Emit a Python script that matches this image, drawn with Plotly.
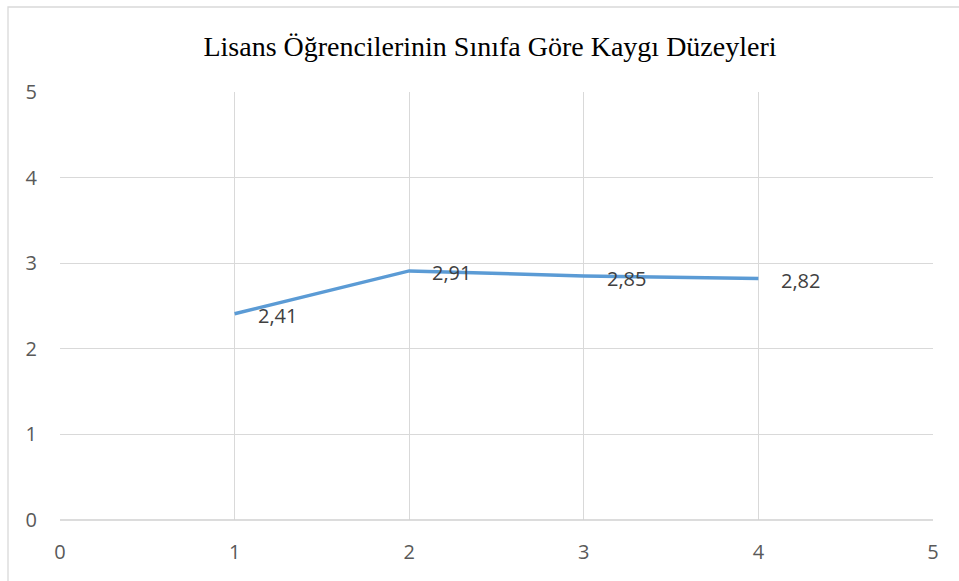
import plotly.graph_objects as go

sinif = [1, 2, 3, 4]
kaygi = [2.41, 2.91, 2.85, 2.82]
x_ticks = [0, 1, 2, 3, 4, 5]
y_ticks = [0, 1, 2, 3, 4, 5]
title = "Lisans Öğrencilerinin Sınıfa Göre Kaygı Düzeyleri"

W, H = 959, 581
L, R, T, B = 60, 26, 92, 61
pw, ph = W - L - R, H - T - B

fig = go.Figure()
fig.add_trace(go.Scatter(
    x=sinif, y=kaygi, mode="lines",
    line=dict(color="#5b9bd5", width=3.5),
    showlegend=False, hoverinfo="x+y",
))

label_font = dict(family="Open Sans, Liberation Sans, sans-serif", size=20, color="#404040")
annotations = [
    dict(x=xv, y=yv, xref="x", yref="y", text=f"{yv:.2f}".replace(".", ","),
         showarrow=False, xanchor="left", yanchor="middle", xshift=21, yshift=-2,
         font=label_font)
    for xv, yv in zip(sinif, kaygi)
]

axis_common = dict(
    showgrid=True, gridcolor="#d9d9d9", gridwidth=1.3,
    zeroline=False, showline=False, ticks="",
    tickfont=dict(family="Open Sans, Liberation Sans, sans-serif", size=20, color="#595959"),
)

fig.update_layout(
    width=W, height=H,
    margin=dict(l=L, r=R, t=T, b=B),
    paper_bgcolor="white", plot_bgcolor="white",
    separators=",.",
    title=dict(text=title, x=490 / W, xanchor="center", y=1 - 46 / H, yanchor="middle",
               font=dict(family="Liberation Serif, Times New Roman, serif", size=28, color="#000000")),
    xaxis=dict(range=[0, 5], tickvals=x_ticks, ticklabelstandoff=18, **axis_common),
    yaxis=dict(range=[0, 5], tickvals=y_ticks, ticklabelstandoff=22, **axis_common),
    annotations=annotations,
    shapes=[
        dict(type="rect", xref="paper", yref="paper",
             x0=(8 - L) / pw, x1=1 + 40 / pw, y0=-0.3, y1=(H - B - 7) / ph,
             line=dict(color="#d9d9d9", width=1.3), layer="below"),
        dict(type="line", xref="paper", yref="paper", x0=0, x1=1, y0=0, y1=0,
             line=dict(color="#d0d0d0", width=1.5)),
    ],
)

fig.write_html("out.html", config={"displayModeBar": False},
               post_script="document.body.style.margin='0';document.body.style.overflow='hidden';")
